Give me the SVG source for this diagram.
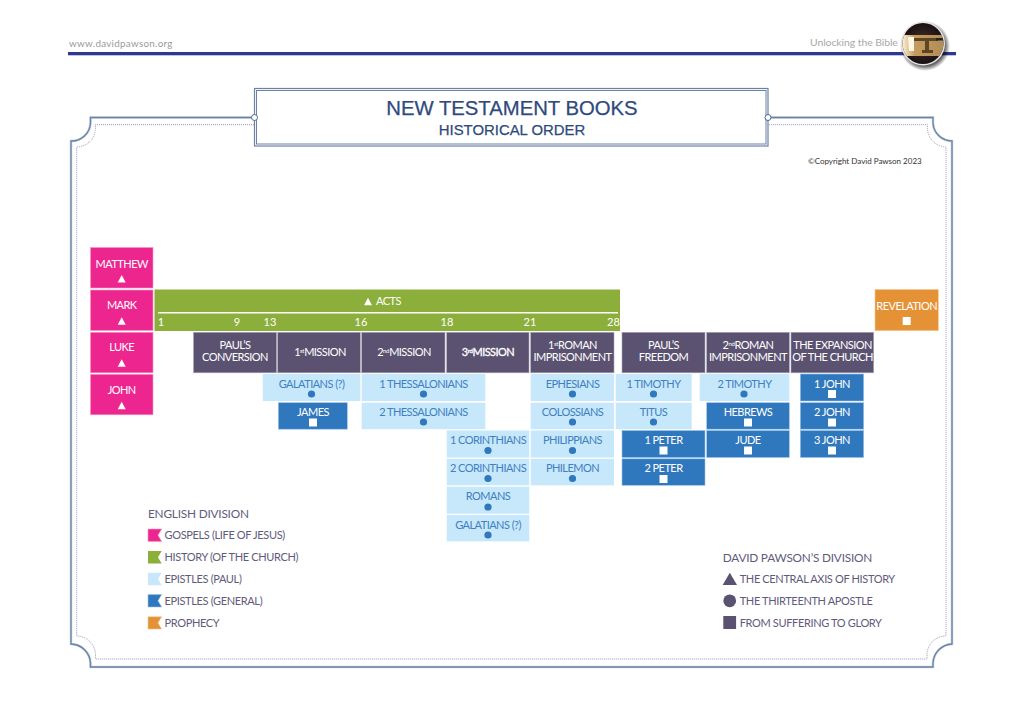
<svg xmlns="http://www.w3.org/2000/svg" width="1024" height="723" viewBox="0 0 1024 723">
<style>
text{font-family:"Lato","Noto Sans","Liberation Sans",sans-serif;font-size:11px;letter-spacing:-.55px;text-anchor:middle}
.w{fill:#fff}
.lt{fill:#3f7fc2}
.pink{fill:#ed258f;stroke:#f49ac4;stroke-width:.6}
.green{fill:#8caf3c}
.dark{fill:#5a5270;stroke:#aaa6b8;stroke-width:.6}
.light{fill:#c7e8fb}
.blue{fill:#2f78bd;stroke:#9dc3e6;stroke-width:.6}
.orange{fill:#e59236;stroke:#f3c99a;stroke-width:.6}
.dot{fill:#2f78bd}
.leg{fill:#5f5b7c;text-anchor:start;font-size:11px;letter-spacing:-.35px}
.head{fill:#5f5b7c;text-anchor:start;font-size:11.8px;letter-spacing:-.2px}
.sup{font-size:6px;letter-spacing:-.3px}
.num{font-size:11px;letter-spacing:0}
.frame{fill:none;stroke:#6b82a6;stroke-width:1.300}
.halo{fill:none;stroke:#c9d3e2;stroke-width:2.600}
.dots{fill:none;stroke:#8f9db8;stroke-width:1;stroke-dasharray:1 1}
.ttl{font-family:"Liberation Sans",sans-serif;fill:#2e4a7c;stroke:#2e4a7c;stroke-width:.25;letter-spacing:0}
</style>
<defs>
<radialGradient id="ball" cx="50%" cy="50%" r="55%"><stop offset="0" stop-color="#4a3526"/><stop offset="1" stop-color="#140c12"/></radialGradient>
<linearGradient id="tan" x1="0" x2="1"><stop offset="0" stop-color="#fff4d8"/><stop offset=".3" stop-color="#c59c5e"/><stop offset="1" stop-color="#b08c58"/></linearGradient>
<radialGradient id="shade"><stop offset=".8" stop-color="#000" stop-opacity=".6"/><stop offset="1" stop-color="#000" stop-opacity="0"/></radialGradient>
<clipPath id="ballclip"><circle cx="923" cy="43.500" r="20.500"/></clipPath>
<path id="tri" d="M-4 3.700H4L0-3.700Z"/>
<path id="framepath" d="M254 117.500H90.500V123A19 19 0 0 1 71 141V644A20 20 0 0 1 90.500 663V667H933V663A20 20 0 0 1 952 644V141A19 19 0 0 1 933 123V117.500H768"/>
</defs>
<rect width="1024" height="723" fill="#fff"/>
<g id="header">
<rect x="68" y="52" width="888" height="3.300" fill="#2b3990"/>
<text x="69" y="46.500" style="text-anchor:start;font-size:9.800px;letter-spacing:.3px" fill="#9a9a9a">www.davidpawson.org</text>
<text x="810" y="46" style="text-anchor:start;font-size:10.400px;letter-spacing:-.05px" fill="#a8a8a8">Unlocking the Bible</text>
<circle cx="925" cy="46" r="25" fill="url(#shade)"/>
<circle cx="923" cy="43.500" r="22" fill="#e4e4e4"/>
<circle cx="923" cy="43.500" r="20.500" fill="url(#ball)"/>
<g clip-path="url(#ballclip)">
<rect x="902" y="35" width="42" height="21" fill="url(#tan)"/>
<path d="M908 37H914V51H909Z" fill="#fff8e6"/>
<path d="M914 38H938V41H929V50H933V53H922V50H925V41H914Z" fill="#5e4526"/>
<rect x="936" y="38" width="8" height="2.500" fill="#26241c"/>
</g>
</g>
<g id="frame">
<use href="#framepath" class="halo"/>
<use href="#framepath" class="frame"/>
<path class="dots" d="M254 124.700H95.500V128A19 19 0 0 1 76.700 147V636A19 19 0 0 1 95.500 655V659H927V655A19 19 0 0 1 946 636V147A19 19 0 0 1 927.500 128V124.700H768"/>
</g>
<g id="title">
<rect x="254.500" y="88.500" width="513.500" height="57.500" fill="#fff" stroke="#6b82a6" stroke-width="1.200"/>
<rect x="256.500" y="90.500" width="509.500" height="53.500" fill="none" stroke="#6b82a6" stroke-width="1"/>
<text class="ttl" x="512" y="114.500" style="font-size:20.300px">NEW TESTAMENT BOOKS</text>
<text class="ttl" x="512" y="135" style="font-size:14.900px">HISTORICAL ORDER</text>
<circle cx="254.500" cy="117.500" r="3" fill="#fff" stroke="#4d6a92" stroke-width="1"/>
<circle cx="768" cy="117.500" r="3" fill="#fff" stroke="#4d6a92" stroke-width="1"/>
</g>
<text id="copyright" x="808" y="164" style="text-anchor:start;font-size:8px;letter-spacing:0" fill="#333">©Copyright David Pawson 2023</text>
<g id="connectors"></g>

<g id="matthew"><rect class="pink" x="90.500" y="247.500" width="62.500" height="40.500"/><text class="w" x="121.700" y="267.500">MATTHEW</text><use href="#tri" x="121.700" y="278.700" class="w"/></g>
<g id="mark"><rect class="pink" x="90.500" y="290" width="62.500" height="40.500"/><text class="w" x="121.700" y="309">MARK</text><use href="#tri" x="121.700" y="321" class="w"/></g>
<g id="luke"><rect class="pink" x="90.500" y="332.300" width="62.500" height="40.500"/><text class="w" x="121.700" y="351">LUKE</text><use href="#tri" x="121.700" y="363" class="w"/></g>
<g id="john"><rect class="pink" x="90.500" y="374.300" width="62.500" height="40.500"/><text class="w" x="121.700" y="394">JOHN</text><use href="#tri" x="121.700" y="405.500" class="w"/></g>

<g id="acts">
<rect class="green" x="154.500" y="289.500" width="465.500" height="41.500"/>
<rect x="158" y="312" width="460" height="1.500" fill="#fff"/>
<use href="#tri" x="368" y="301.500" class="w"/>
<text class="w" x="388.500" y="305">ACTS</text>
<text class="w num" x="161" y="326">1</text><text class="w num" x="237" y="326">9</text><text class="w num" x="270" y="326">13</text><text class="w num" x="361" y="326">16</text><text class="w num" x="447" y="326">18</text><text class="w num" x="530" y="326">21</text><text class="w num" x="613.500" y="326">28</text>
</g>

<g id="pauls-conversion"><rect class="dark" x="193.500" y="332.300" width="83" height="40.500"/><text class="w" x="235" y="349">PAUL’S</text><text class="w" x="235" y="361">CONVERSION</text></g>
<g id="mission-1"><rect class="dark" x="277.700" y="332.300" width="82.600" height="40.500"/><text class="w" x="320" y="356">1<tspan class="sup" dy="-3">st</tspan><tspan dy="3">MISSION</tspan></text></g>
<g id="mission-2"><rect class="dark" x="361.700" y="332.300" width="83.300" height="40.500"/><text class="w" x="404" y="356">2<tspan class="sup" dy="-3">nd</tspan><tspan dy="3">MISSION</tspan></text></g>
<g id="mission-3"><rect class="dark" x="446.700" y="332.300" width="82.300" height="40.500"/><text class="w" x="488" y="356" stroke="#fff" stroke-width=".3">3<tspan class="sup" dy="-3">rd</tspan><tspan dy="3">MISSION</tspan></text></g>
<g id="roman-1"><rect class="dark" x="530.700" y="332.300" width="83.300" height="40.500"/><text class="w" x="572.500" y="349">1<tspan class="sup" dy="-3">st</tspan><tspan dy="3">ROMAN</tspan></text><text class="w" x="572.500" y="361">IMPRISONMENT</text></g>
<g id="pauls-freedom"><rect class="dark" x="622" y="332.300" width="83" height="40.500"/><text class="w" x="663.500" y="349">PAUL’S</text><text class="w" x="663.500" y="361">FREEDOM</text></g>
<g id="roman-2"><rect class="dark" x="706.700" y="332.300" width="82.600" height="40.500"/><text class="w" x="748" y="349">2<tspan class="sup" dy="-3">nd</tspan><tspan dy="3">ROMAN</tspan></text><text class="w" x="748" y="361">IMPRISONMENT</text></g>
<g id="expansion"><rect class="dark" x="791" y="332.300" width="82.700" height="40.500"/><text class="w" x="832.500" y="349">THE EXPANSION</text><text class="w" x="832.500" y="361">OF THE CHURCH</text></g>

<g id="revelation"><rect class="orange" x="875" y="289.500" width="63.300" height="41.200"/><text class="w" x="906.700" y="309.500">REVELATION</text><rect class="w" x="902.700" y="317" width="8" height="8"/></g>

<g id="galatians-a"><rect class="light" x="262.700" y="374" width="97.600" height="27"/><text class="lt" x="311.500" y="387.500">GALATIANS (?)</text><circle class="dot" cx="311.500" cy="394" r="3.600"/></g>
<g id="james"><rect class="blue" x="278.300" y="402.700" width="69" height="26.500"/><text class="w" x="313" y="415.500">JAMES</text><rect class="w" x="309" y="418.500" width="8" height="8"/></g>
<g id="thess-1"><rect class="light" x="361.700" y="374" width="123.600" height="27"/><text class="lt" x="423.500" y="387.500">1 THESSALONIANS</text><circle class="dot" cx="423.500" cy="394" r="3.600"/></g>
<g id="thess-2"><rect class="light" x="361.700" y="402.700" width="123.600" height="26.500"/><text class="lt" x="423.500" y="415.500">2 THESSALONIANS</text><circle class="dot" cx="423.500" cy="422" r="3.600"/></g>
<g id="cor-1"><rect class="light" x="446.700" y="430.500" width="82.600" height="27"/><text class="lt" x="488" y="444">1 CORINTHIANS</text><circle class="dot" cx="488" cy="450.500" r="3.600"/></g>
<g id="cor-2"><rect class="light" x="446.700" y="458.800" width="82.600" height="26.500"/><text class="lt" x="488" y="472">2 CORINTHIANS</text><circle class="dot" cx="488" cy="478.500" r="3.600"/></g>
<g id="romans"><rect class="light" x="446.700" y="486.700" width="82.600" height="27"/><text class="lt" x="488" y="500">ROMANS</text><circle class="dot" cx="488" cy="507" r="3.600"/></g>
<g id="galatians-b"><rect class="light" x="446.700" y="515" width="82.600" height="26.400"/><text class="lt" x="488" y="528.500">GALATIANS (?)</text><circle class="dot" cx="488" cy="535" r="3.600"/></g>
<g id="ephesians"><rect class="light" x="530.700" y="374" width="83.300" height="27"/><text class="lt" x="572.500" y="387.500">EPHESIANS</text><circle class="dot" cx="572.500" cy="394" r="3.600"/></g>
<g id="colossians"><rect class="light" x="530.700" y="402.700" width="83.300" height="26.500"/><text class="lt" x="572.500" y="415.500">COLOSSIANS</text><circle class="dot" cx="572.500" cy="422" r="3.600"/></g>
<g id="philippians"><rect class="light" x="530.700" y="430.500" width="83.300" height="27"/><text class="lt" x="572.500" y="444">PHILIPPIANS</text><circle class="dot" cx="572.500" cy="450.500" r="3.600"/></g>
<g id="philemon"><rect class="light" x="530.700" y="458.800" width="83.300" height="26.500"/><text class="lt" x="572.500" y="472">PHILEMON</text><circle class="dot" cx="572.500" cy="478.500" r="3.600"/></g>
<g id="timothy-1"><rect class="light" x="615.700" y="374" width="76" height="27"/><text class="lt" x="653.500" y="387.500">1 TIMOTHY</text><circle class="dot" cx="653.500" cy="394" r="3.600"/></g>
<g id="titus"><rect class="light" x="615.700" y="402.700" width="76" height="26.500"/><text class="lt" x="653.500" y="415.500">TITUS</text><circle class="dot" cx="653.500" cy="422" r="3.600"/></g>
<g id="peter-1"><rect class="blue" x="622" y="430.500" width="83" height="27"/><text class="w" x="663.500" y="444">1 PETER</text><rect class="w" x="659.500" y="446.500" width="8" height="8"/></g>
<g id="peter-2"><rect class="blue" x="622" y="458.800" width="83" height="26.500"/><text class="w" x="663.500" y="472">2 PETER</text><rect class="w" x="659.500" y="475" width="8" height="8"/></g>
<g id="timothy-2"><rect class="light" x="699.700" y="374" width="89.600" height="27"/><text class="lt" x="744.500" y="387.500">2 TIMOTHY</text><circle class="dot" cx="744" cy="394" r="3.600"/></g>
<g id="hebrews"><rect class="blue" x="706.700" y="402.700" width="82.600" height="26.500"/><text class="w" x="748" y="415.500">HEBREWS</text><rect class="w" x="744" y="418.500" width="8" height="8"/></g>
<g id="jude"><rect class="blue" x="706.700" y="430.500" width="82.600" height="27"/><text class="w" x="748" y="444">JUDE</text><rect class="w" x="744" y="446.500" width="8" height="8"/></g>
<g id="john-1"><rect class="blue" x="800.300" y="374" width="63.400" height="27"/><text class="w" x="832" y="387.500">1 JOHN</text><rect class="w" x="828" y="390" width="8" height="8"/></g>
<g id="john-2"><rect class="blue" x="800.300" y="402.700" width="63.400" height="26.500"/><text class="w" x="832" y="415.500">2 JOHN</text><rect class="w" x="828" y="418.500" width="8" height="8"/></g>
<g id="john-3"><rect class="blue" x="800.300" y="430.500" width="63.400" height="27"/><text class="w" x="832" y="444">3 JOHN</text><rect class="w" x="828" y="446.500" width="8" height="8"/></g>

<g id="legend-english">
<text class="head" x="148" y="518">ENGLISH DIVISION</text>
<path class="pink" d="M148 529H161.700L158 535.200L161.700 541.400H148Z"/><text class="leg" x="164.500" y="539">GOSPELS (LIFE OF JESUS)</text>
<path class="green" d="M148 551H161.700L158 557.200L161.700 563.400H148Z"/><text class="leg" x="164.500" y="561">HISTORY (OF THE CHURCH)</text>
<path class="light" d="M148 572.800H161.700L158 579L161.700 585.200H148Z"/><text class="leg" x="164.500" y="583">EPISTLES (PAUL)</text>
<path class="blue" d="M148 594.600H161.700L158 600.800L161.700 607H148Z"/><text class="leg" x="164.500" y="605">EPISTLES (GENERAL)</text>
<path class="orange" d="M148 616.700H161.700L158 622.900L161.700 629.100H148Z"/><text class="leg" x="164.500" y="627">PROPHECY</text>
</g>
<g id="legend-pawson">
<text class="head" x="722.700" y="561.500">DAVID PAWSON’S DIVISION</text>
<path d="M722.700 585L729.800 572.700L737 585Z" fill="#5a5270"/><text class="leg" x="739.700" y="583">THE CENTRAL AXIS OF HISTORY</text>
<circle cx="729.700" cy="600.800" r="6.400" fill="#5a5270"/><text class="leg" x="739.700" y="605">THE THIRTEENTH APOSTLE</text>
<rect x="723.300" y="616" width="12.800" height="13" fill="#5a5270"/><text class="leg" x="739.700" y="627">FROM SUFFERING TO GLORY</text>
</g>
</svg>
